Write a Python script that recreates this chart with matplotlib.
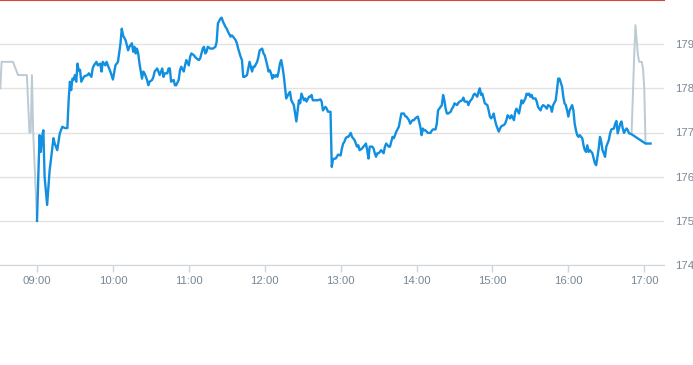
import matplotlib
matplotlib.use("Agg")
import matplotlib.pyplot as plt

# pre-market (grey)
pre_times = ["08:31", "08:32", "08:41", "08:45", "08:52", "08:54", "08:55",
             "08:56", "08:57", "09:00"]
pre_prices = [178.0, 178.6, 178.6, 178.3, 178.3, 177.0, 177.0,
              178.3, 177.0, 175.0]

# regular session (blue)
times = [
    "09:00", "09:02", "09:03", "09:04", "09:05", "09:06", "09:08", "09:10", "09:11", "09:13",
    "09:14", "09:16", "09:18", "09:20", "09:22", "09:24", "09:25", "09:26", "09:27", "09:28",
    "09:29", "09:30", "09:31", "09:32", "09:33", "09:34", "09:35", "09:37", "09:38", "09:40",
    "09:41", "09:43", "09:44", "09:45", "09:47", "09:48", "09:50", "09:51", "09:52", "09:54",
    "09:55", "09:56", "09:58", "10:00", "10:02", "10:03", "10:04", "10:06", "10:07", "10:08",
    "10:10", "10:11", "10:12", "10:13", "10:15", "10:16", "10:17", "10:18", "10:19", "10:20",
    "10:21", "10:23", "10:24", "10:25", "10:27", "10:28", "10:29", "10:31", "10:32", "10:33",
    "10:35", "10:36", "10:37", "10:39", "10:40", "10:41", "10:43", "10:44", "10:45", "10:46",
    "10:48", "10:49", "10:50", "10:52", "10:53", "10:54", "10:56", "10:57", "10:58", "11:00",
    "11:01", "11:02", "11:04", "11:05", "11:06", "11:08", "11:09", "11:10", "11:11", "11:12",
    "11:13", "11:14", "11:15", "11:17", "11:19", "11:21", "11:22", "11:23", "11:25", "11:26",
    "11:27", "11:29", "11:30", "11:31", "11:33", "11:34", "11:35", "11:37", "11:38", "11:39",
    "11:41", "11:42", "11:43", "11:44", "11:46", "11:47", "11:48", "11:50", "11:51", "11:52",
    "11:54", "11:55", "11:56", "11:58", "11:59", "12:00", "12:02", "12:03", "12:04", "12:05",
    "12:06", "12:07", "12:08", "12:09", "12:10", "12:11", "12:12", "12:13", "12:14", "12:15",
    "12:16", "12:17", "12:19", "12:20", "12:21", "12:23", "12:24", "12:25", "12:26", "12:27",
    "12:28", "12:29", "12:31", "12:32", "12:33", "12:35", "12:36", "12:37", "12:38", "12:41",
    "12:42", "12:44", "12:45", "12:46", "12:48", "12:49", "12:50", "12:52", "12:53", "12:54",
    "12:56", "12:57", "12:58", "13:00", "13:01", "13:02", "13:03", "13:04", "13:05", "13:06",
    "13:07", "13:08", "13:09", "13:11", "13:12", "13:13", "13:14", "13:15", "13:17", "13:18",
    "13:19", "13:20", "13:21", "13:22", "13:23", "13:24", "13:25", "13:26", "13:27", "13:28",
    "13:29", "13:30", "13:31", "13:32", "13:34", "13:35", "13:36", "13:38", "13:39", "13:40",
    "13:41", "13:42", "13:43", "13:44", "13:46", "13:47", "13:48", "13:50", "13:51", "13:52",
    "13:54", "13:55", "13:56", "13:57", "13:58", "13:59", "14:01", "14:02", "14:03", "14:04",
    "14:05", "14:06", "14:07", "14:08", "14:09", "14:11", "14:12", "14:13", "14:15", "14:16",
    "14:17", "14:19", "14:20", "14:21", "14:22", "14:23", "14:24", "14:25", "14:27", "14:28",
    "14:29", "14:30", "14:32", "14:33", "14:34", "14:36", "14:37", "14:38", "14:40", "14:41",
    "14:42", "14:44", "14:45", "14:46", "14:48", "14:49", "14:50", "14:51", "14:52", "14:53",
    "14:54", "14:56", "14:57", "14:58", "14:59", "15:00", "15:01", "15:02", "15:03", "15:05",
    "15:06", "15:07", "15:09", "15:10", "15:11", "15:12", "15:13", "15:14", "15:15", "15:17",
    "15:18", "15:19", "15:21", "15:22", "15:23", "15:24", "15:26", "15:27", "15:28", "15:29",
    "15:30", "15:31", "15:32", "15:34", "15:35", "15:36", "15:38", "15:39", "15:40", "15:42",
    "15:43", "15:44", "15:46", "15:47", "15:48", "15:50", "15:51", "15:52", "15:53", "15:55",
    "15:56", "15:57", "15:58", "15:59", "16:00", "16:01", "16:03", "16:04", "16:05", "16:06",
    "16:07", "16:08", "16:09", "16:11", "16:12", "16:13", "16:14", "16:15", "16:16", "16:17",
    "16:19", "16:20", "16:21", "16:22", "16:24", "16:25", "16:26", "16:27", "16:28", "16:29",
    "16:30", "16:32", "16:33", "16:34", "16:36", "16:37", "16:38", "16:39", "16:40", "16:41",
    "16:42", "16:43", "16:44", "16:45", "16:46", "16:47", "16:48", "16:50", "17:01", "17:05",
]
prices = [
    175.00, 176.94, 176.56, 176.90, 177.05, 176.00, 175.36, 176.15, 176.38, 176.87,
    176.75, 176.60, 176.98, 177.13, 177.10, 177.10, 177.73, 178.15, 177.96, 178.22,
    178.20, 178.30, 178.15, 178.56, 178.40, 178.42, 178.15, 178.26, 178.28, 178.30,
    178.34, 178.26, 178.45, 178.52, 178.60, 178.52, 178.56, 178.38, 178.60, 178.52,
    178.60, 178.52, 178.38, 178.20, 178.52, 178.56, 178.60, 179.02, 179.35, 179.20,
    179.09, 178.98, 178.86, 178.94, 179.02, 178.83, 178.94, 178.79, 178.90, 178.79,
    178.56, 178.22, 178.38, 178.34, 178.19, 178.07, 178.15, 178.19, 178.26, 178.38,
    178.45, 178.38, 178.30, 178.45, 178.26, 178.34, 178.34, 178.45, 178.45, 178.15,
    178.19, 178.07, 178.07, 178.19, 178.41, 178.49, 178.38, 178.52, 178.64, 178.52,
    178.71, 178.79, 178.75, 178.71, 178.68, 178.64, 178.68, 178.79, 178.90, 178.94,
    178.79, 178.83, 178.94, 178.90, 178.90, 178.94, 179.05, 179.47, 179.58, 179.60,
    179.51, 179.39, 179.35, 179.28, 179.17, 179.20, 179.17, 179.09, 179.02, 178.90,
    178.71, 178.64, 178.26, 178.26, 178.30, 178.45, 178.60, 178.38, 178.49, 178.49,
    178.60, 178.71, 178.86, 178.90, 178.79, 178.75, 178.52, 178.38, 178.41, 178.34,
    178.22, 178.30, 178.26, 178.30, 178.26, 178.38, 178.56, 178.64, 178.49, 178.30,
    178.04, 177.77, 177.88, 177.92, 177.73, 177.62, 177.43, 177.25, 177.50, 177.73,
    177.66, 177.88, 177.73, 177.77, 177.70, 177.81, 177.81, 177.85, 177.73, 177.73,
    177.73, 177.75, 177.70, 177.50, 177.58, 177.54, 177.47, 177.47, 176.22, 176.40,
    176.41, 176.45, 176.50, 176.48, 176.64, 176.75, 176.79, 176.87, 176.90, 176.90,
    176.94, 176.99, 176.90, 176.83, 176.75, 176.68, 176.71, 176.60, 176.64, 176.68,
    176.71, 176.75, 176.60, 176.41, 176.68, 176.68, 176.68, 176.64, 176.53, 176.45,
    176.53, 176.53, 176.56, 176.60, 176.53, 176.68, 176.75, 176.68, 176.68, 176.79,
    176.90, 176.87, 176.94, 177.02, 177.13, 177.28, 177.43, 177.43, 177.37, 177.36,
    177.28, 177.20, 177.25, 177.28, 177.28, 177.32, 177.36, 177.25, 177.13, 176.94,
    177.09, 177.05, 177.05, 177.02, 176.99, 176.99, 177.04, 177.07, 177.07, 177.20,
    177.50, 177.58, 177.62, 177.85, 177.73, 177.54, 177.43, 177.43, 177.47, 177.54,
    177.58, 177.66, 177.62, 177.67, 177.70, 177.73, 177.79, 177.70, 177.70, 177.62,
    177.70, 177.77, 177.85, 177.88, 177.81, 177.92, 178.00, 177.85, 177.88, 177.77,
    177.66, 177.62, 177.50, 177.36, 177.32, 177.36, 177.43, 177.28, 177.17, 177.02,
    177.09, 177.14, 177.17, 177.20, 177.28, 177.39, 177.36, 177.32, 177.39, 177.28,
    177.47, 177.54, 177.43, 177.58, 177.73, 177.66, 177.77, 177.88, 177.85, 177.88,
    177.81, 177.85, 177.77, 177.77, 177.70, 177.58, 177.50, 177.58, 177.62, 177.58,
    177.54, 177.62, 177.58, 177.47, 177.62, 177.73, 177.96, 178.22, 178.22, 178.04,
    177.81, 177.66, 177.62, 177.50, 177.36, 177.50, 177.62, 177.50, 177.20, 177.05,
    176.94, 176.90, 176.94, 176.87, 176.71, 176.60, 176.56, 176.71, 176.56, 176.60,
    176.53, 176.41, 176.30, 176.26, 176.64, 176.90, 176.79, 176.60, 176.53, 176.45,
    176.68, 176.83, 176.98, 177.07, 177.09, 177.20, 177.26, 176.98, 177.09, 177.20,
    177.25, 177.09, 176.99, 177.05, 177.09, 177.05, 176.98, 176.96, 176.75, 176.75,
]

# after-hours (grey)
post_times = ["16:50", "16:52", "16:53", "16:55", "16:56", "16:58", "16:59", "17:00", "17:01"]
post_prices = [177.0, 178.7, 179.43, 178.75, 178.6, 178.6, 178.45, 178.0, 176.75]

y_ticks = [174, 175, 176, 177, 178, 179]
x_labels = ["09:00", "10:00", "11:00", "12:00", "13:00", "14:00", "15:00", "16:00", "17:00"]


def to_hours(ts):
    return [int(t[:2]) + int(t[3:]) / 60 for t in ts]


plt.rcParams["font.family"] = ["Liberation Sans", "DejaVu Sans"]
label_col = "#788694"

fig = plt.figure(figsize=(6.93, 3.65), dpi=100)
ax = fig.add_axes([0, 100 / 365, 664 / 693, 265 / 365])

ax.plot(to_hours(pre_times), pre_prices, color="#bccad3", lw=1.4, zorder=2)
ax.plot(to_hours(post_times), post_prices, color="#bccad3", lw=1.4, zorder=2)
ax.plot(to_hours(times), prices, color="#138fe0", lw=1.7, zorder=3,
        solid_joinstyle="round")

ax.set_xlim(8.5125, 17.26)
ax.set_ylim(174, 180)

ax.set_yticks(y_ticks)
ax.set_yticklabels([str(v) for v in y_ticks])
ax.yaxis.tick_right()
ax.tick_params(axis="y", length=0, pad=8.2, labelsize=8.2, labelcolor=label_col)

ax.set_xticks(to_hours(x_labels))
ax.set_xticklabels(x_labels)
ax.tick_params(axis="x", length=5, width=1, color="#ccd6dd", pad=3,
               labelsize=8.2, labelcolor=label_col)

ax.grid(axis="y", color="#e3e3e3", lw=1)
ax.set_axisbelow(True)

for s in ("left", "right"):
    ax.spines[s].set_visible(False)
ax.spines["bottom"].set_color("#ccd6dd")
ax.spines["top"].set_color("#d9443a")
ax.spines["top"].set_linewidth(1.5)

fig.savefig("out.png", dpi=100)
